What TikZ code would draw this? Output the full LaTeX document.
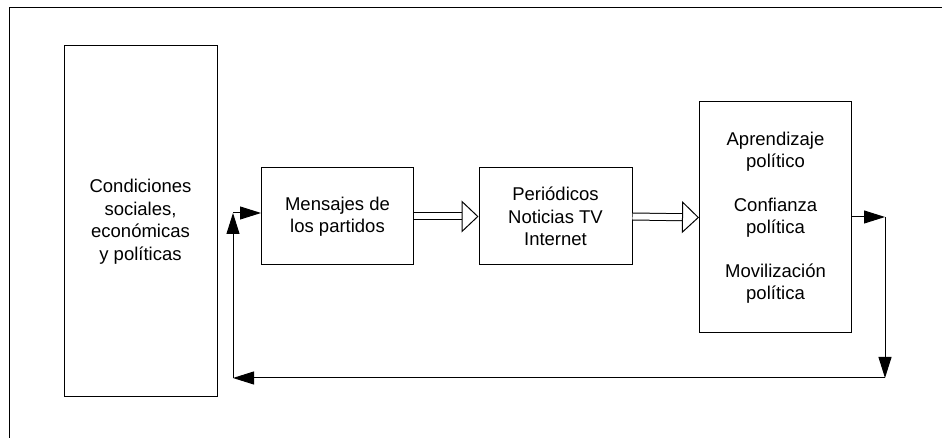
\documentclass[tikz,border=0pt]{standalone}
\usepackage{fontspec}
\setmainfont{Liberation Sans}
\usetikzlibrary{arrows.meta}

\begin{document}
\begin{tikzpicture}[
    x=1pt, y=1pt,
    box/.style={rectangle, draw, line width=1pt,
                minimum width=152pt, minimum height=97pt,
                text centered, align=center, inner sep=2pt,
                font=\fontsize{18.5}{22.5}\selectfont},
    tallbox/.style={box, minimum height=231pt},
    hollow/.style={double, double distance=6pt, line width=1pt,
                   -{Triangle[open, length=17pt, width=32pt, line width=1pt]}},
    fb/.style={line width=1pt, -{Triangle[length=21pt, width=13pt]}}
]
    \useasboundingbox (0,0) rectangle (942,438);

    % Marco
    \draw[line width=0.8pt] (9,0) -- (9,431) -- (942,431);

    % Condiciones
    \node[box, minimum width=153pt, minimum height=351pt] (cond) at (140.5,216.5)
        {Condiciones\\sociales,\\económicas\\y políticas};

    % Mensajes
    \node[box] (msg) at (337.5,221.5)
        {Mensajes de\\los partidos};

    % Medios
    \node[box, minimum width=153pt] (news) at (555.5,221.5)
        {Periódicos\\Noticias TV\\Internet};

    % Efectos
    \node[tallbox] (lrn) at (775.5,220.5)
        {Aprendizaje\\político\\[21pt]
         Confianza\\política\\[21pt]
         Movilización\\política};

    % Flechas
    \draw[hollow] (msg.east) -- (news.west);
    \draw[hollow] (news.east) -- (lrn.west);

    % Retroalimentacion
    \coordinate (c1) at (885,221);
    \coordinate (c2) at (885,60);
    \coordinate (c3) at (233,60);
    \coordinate (c4) at (233,225);
    \draw[fb] (lrn.east |- c1) -- (c1);
    \draw[fb] (c1) -- (c2);
    \draw[fb] (c2) -- (c3);
    \draw[fb] (c3) -- (c4);
    \draw[fb] (c4) -- (c4 -| msg.west);

\end{tikzpicture}
\end{document}
